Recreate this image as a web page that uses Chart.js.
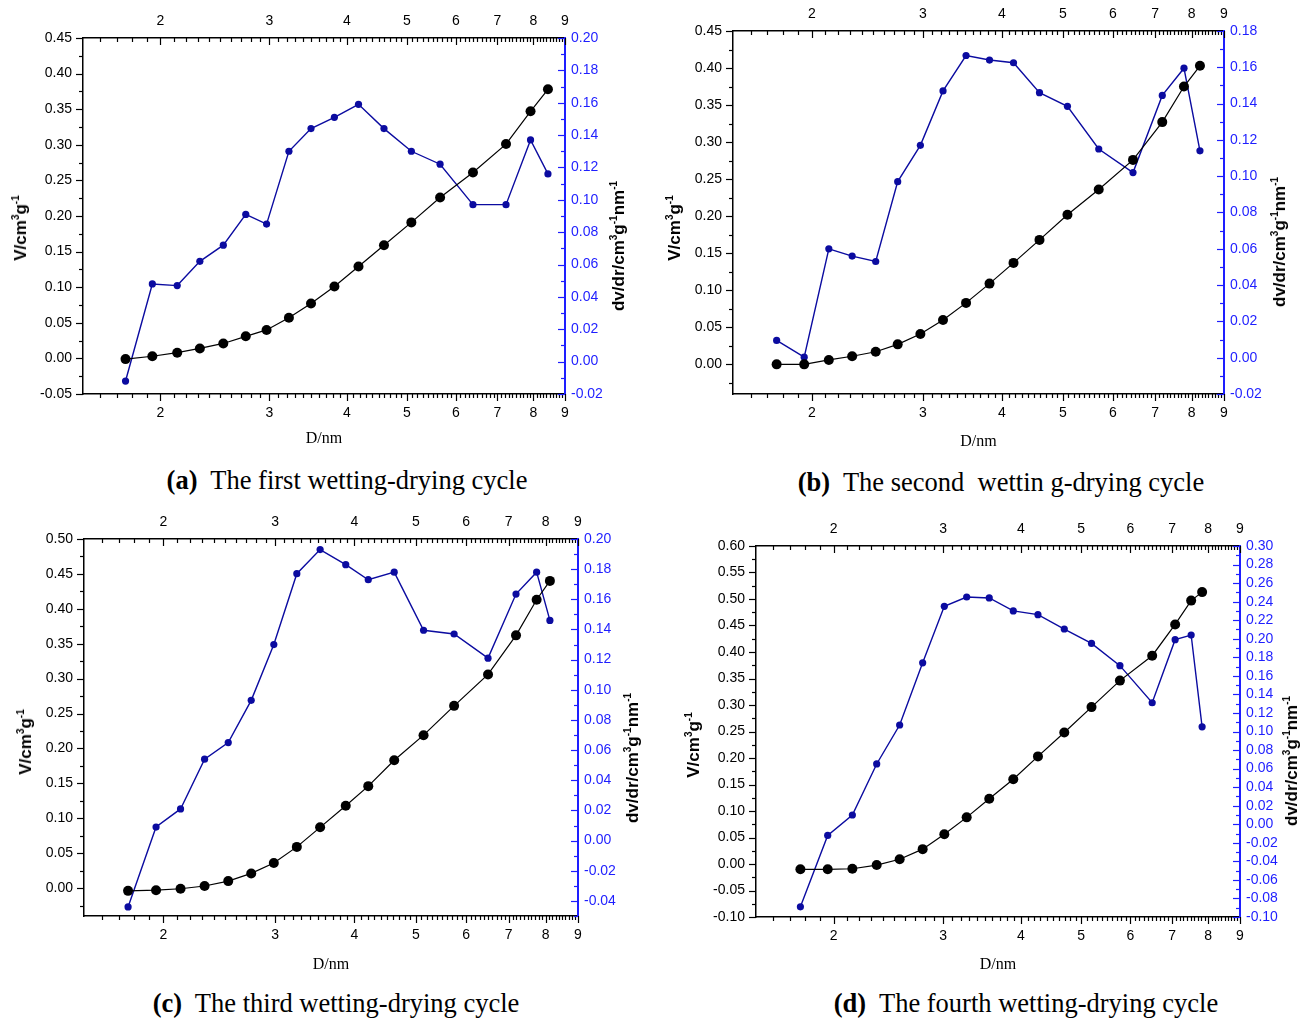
<!DOCTYPE html>
<html>
<head>
<meta charset="utf-8">
<script src="https://cdn.jsdelivr.net/npm/chart.js@4"></script>
<style>
  body { margin: 0; background: #fff; }
  #page { position: relative; width: 1309px; height: 1019px; overflow: hidden; background: #fff; }
  canvas { position: absolute; }
  .ytitle { position: absolute; font: bold 17px "Liberation Sans", Arial, sans-serif; white-space: nowrap;
            transform: translate(-50%, -50%) rotate(-90deg); color: #000; }
  .ytitle sup { font-size: 10px; vertical-align: 7px; line-height: 0; }
  .caption { position: absolute; font: 26.5px "Liberation Serif", "Times New Roman", serif; white-space: pre;
             transform: translate(-50%, -50%); color: #000; }
</style>
</head>
<body>
<div id="page">
  <canvas id="chartA" width="650" height="460" style="left:0px; top:0px"></canvas>
  <canvas id="chartB" width="659" height="460" style="left:650px; top:0px"></canvas>
  <canvas id="chartC" width="660" height="470" style="left:0px; top:510px"></canvas>
  <canvas id="chartD" width="649" height="470" style="left:660px; top:510px"></canvas>

  <div class="ytitle" style="left:21px; top:228px">V/cm<sup>3</sup>g<sup>-1</sup></div>
  <div class="ytitle" style="left:619px; top:246px">dv/dr/cm<sup>3</sup>g<sup>-1</sup>nm<sup>-1</sup></div>
  <div class="ytitle" style="left:675px; top:228px">V/cm<sup>3</sup>g<sup>-1</sup></div>
  <div class="ytitle" style="left:1280px; top:242px">dv/dr/cm<sup>3</sup>g<sup>-1</sup>nm<sup>-1</sup></div>
  <div class="ytitle" style="left:26px; top:742px">V/cm<sup>3</sup>g<sup>-1</sup></div>
  <div class="ytitle" style="left:633px; top:758px">dv/dr/cm<sup>3</sup>g<sup>-1</sup>nm<sup>-1</sup></div>
  <div class="ytitle" style="left:694px; top:745px">V/cm<sup>3</sup>g<sup>-1</sup></div>
  <div class="ytitle" style="left:1292px; top:761px">dv/dr/cm<sup>3</sup>g<sup>-1</sup>nm<sup>-1</sup></div>

  <div class="caption" style="left:347px; top:480px"><b>(a)</b>  The first wetting-drying cycle</div>
  <div class="caption" style="left:1001px; top:482px"><b>(b)</b>  The second  wettin g-drying cycle</div>
  <div class="caption" style="left:336px; top:1003px"><b>(c)</b>  The third wetting-drying cycle</div>
  <div class="caption" style="left:1026px; top:1003px"><b>(d)</b>  The fourth wetting-drying cycle</div>
</div>

<script>
// pore diameter D (nm), cumulative volume V and dv/dr
const D_A = [1.757, 1.941, 2.129, 2.316, 2.527, 2.747, 2.968, 3.225, 3.501, 3.819, 4.177, 4.592, 5.084, 5.657, 6.392, 7.228, 7.918, 8.447];
const V_A = [-0.001, 0.003, 0.008, 0.014, 0.021, 0.031, 0.040, 0.057, 0.077, 0.101, 0.129, 0.159, 0.191, 0.226, 0.261, 0.301, 0.347, 0.378];
const DVDR_A = [-0.012, 0.048, 0.047, 0.062, 0.072, 0.091, 0.085, 0.130, 0.144, 0.151, 0.159, 0.144, 0.130, 0.122, 0.097, 0.097, 0.137, 0.116];

const D_B = [1.759, 1.945, 2.128, 2.317, 2.525, 2.736, 2.972, 3.228, 3.511, 3.825, 4.175, 4.590, 5.083, 5.698, 6.457, 7.185, 7.777, 8.244];
const V_B = [0.000, 0.000, 0.006, 0.011, 0.017, 0.027, 0.041, 0.060, 0.083, 0.109, 0.137, 0.168, 0.202, 0.236, 0.276, 0.327, 0.375, 0.403];
const DVDR_B = [0.0095, 0.0003, 0.060, 0.056, 0.053, 0.097, 0.117, 0.147, 0.1665, 0.164, 0.1625, 0.146, 0.1385, 0.115, 0.102, 0.1445, 0.1595, 0.114];

const D_C = [1.760, 1.948, 2.129, 2.323, 2.531, 2.751, 2.986, 3.246, 3.532, 3.876, 4.206, 4.621, 5.140, 5.742, 6.494, 7.188, 7.746, 8.128];
const V_C = [-0.004, -0.003, -0.001, 0.003, 0.010, 0.021, 0.036, 0.059, 0.087, 0.118, 0.146, 0.183, 0.219, 0.261, 0.306, 0.362, 0.413, 0.440];
const DVDR_C = [-0.044, 0.009, 0.021, 0.054, 0.065, 0.093, 0.130, 0.177, 0.193, 0.183, 0.173, 0.178, 0.1395, 0.137, 0.121, 0.1635, 0.178, 0.146];

const D_D = [1.768, 1.956, 2.143, 2.345, 2.553, 2.780, 3.012, 3.272, 3.557, 3.888, 4.260, 4.696, 5.194, 5.770, 6.502, 7.079, 7.511, 7.822];
const V_D = [-0.010, -0.010, -0.009, -0.002, 0.009, 0.028, 0.056, 0.088, 0.123, 0.160, 0.203, 0.248, 0.296, 0.346, 0.393, 0.452, 0.497, 0.513];
const DVDR_D = [-0.089, -0.012, 0.010, 0.065, 0.107, 0.174, 0.235, 0.245, 0.244, 0.230, 0.226, 0.2105, 0.195, 0.171, 0.131, 0.199, 0.204, 0.105];

// tick labels
const X_TICKS = [2, 3, 4, 5, 6, 7, 8, 9];
const LEFT_TICKS_A = [-0.05, 0, 0.05, 0.10, 0.15, 0.20, 0.25, 0.30, 0.35, 0.40, 0.45];
const RIGHT_TICKS_A = [-0.02, 0, 0.02, 0.04, 0.06, 0.08, 0.10, 0.12, 0.14, 0.16, 0.18, 0.20];
const LEFT_TICKS_B = [0, 0.05, 0.10, 0.15, 0.20, 0.25, 0.30, 0.35, 0.40, 0.45];
const RIGHT_TICKS_B = [-0.02, 0, 0.02, 0.04, 0.06, 0.08, 0.10, 0.12, 0.14, 0.16, 0.18];
const LEFT_TICKS_C = [0, 0.05, 0.10, 0.15, 0.20, 0.25, 0.30, 0.35, 0.40, 0.45, 0.50];
const RIGHT_TICKS_C = [-0.04, -0.02, 0, 0.02, 0.04, 0.06, 0.08, 0.10, 0.12, 0.14, 0.16, 0.18, 0.20];
const LEFT_TICKS_D = [-0.10, -0.05, 0, 0.05, 0.10, 0.15, 0.20, 0.25, 0.30, 0.35, 0.40, 0.45, 0.50, 0.55, 0.60];
const RIGHT_TICKS_D = [-0.10, -0.08, -0.06, -0.04, -0.02, 0, 0.02, 0.04, 0.06, 0.08, 0.10, 0.12, 0.14, 0.16, 0.18, 0.20, 0.22, 0.24, 0.26, 0.28, 0.30];

const BLACK = "#000000";
const NAVY = "#0b0ba0";
const AXIS_BLUE = "#1e1eff";
const TICK_FONT = { family: "'Liberation Sans', Arial, sans-serif", size: 14 };

// minor x ticks every 0.1 between the labelled ones
const xMinor = [];
for (let i = 16; i < 90; i++) {
    if (i % 10 !== 0) xMinor.push(i / 10);
}

function minorOf(major, min, max) {
    const step = major[1] - major[0];
    const out = [];
    for (let v = major[0] - step / 2; v <= max + 1e-9; v += step) {
        if (v >= min - 1e-9) out.push(v);
    }
    return out;
}

// short tick marks: left/bottom point out, top/right point in (like the source plots)
const tickMarks = {
    id: "tickMarks",
    afterDraw(chart) {
        const { ctx, chartArea: a } = chart;
        const { x, y, y2 } = chart.scales;
        const o = chart.options.plugins.tickMarks;
        const seg = (x1, y1, x2, y2b) => { ctx.beginPath(); ctx.moveTo(x1, y1); ctx.lineTo(x2, y2b); ctx.stroke(); };
        ctx.save();
        ctx.lineWidth = 1.2;
        ctx.strokeStyle = BLACK;
        X_TICKS.forEach(v => {
            const px = Math.round(x.getPixelForValue(v)) + 0.5;
            seg(px, a.bottom, px, a.bottom + 7);
            seg(px, a.top, px, a.top + 7);
        });
        xMinor.forEach(v => {
            const px = Math.round(x.getPixelForValue(v)) + 0.5;
            seg(px, a.bottom, px, a.bottom + 4);
            seg(px, a.top, px, a.top + 4);
        });
        o.left.forEach(v => {
            const py = Math.round(y.getPixelForValue(v)) + 0.5;
            seg(a.left - 7, py, a.left, py);
        });
        minorOf(o.left, y.min, y.max).forEach(v => {
            const py = Math.round(y.getPixelForValue(v)) + 0.5;
            seg(a.left - 4, py, a.left, py);
        });
        ctx.strokeStyle = AXIS_BLUE;
        o.right.forEach(v => {
            const py = Math.round(y2.getPixelForValue(v)) + 0.5;
            seg(a.right - 7, py, a.right, py);
        });
        minorOf(o.right, y2.min, y2.max).forEach(v => {
            const py = Math.round(y2.getPixelForValue(v)) + 0.5;
            seg(a.right - 4, py, a.right, py);
        });
        ctx.restore();
    }
};

function fixSize(prop, size) {
    return scale => {
        scale[prop] = size;
        scale.paddingLeft = scale.paddingRight = scale.paddingTop = scale.paddingBottom = 0;
    };
}

function setTicks(list) {
    return scale => { scale.ticks = list.map(v => ({ value: v })); };
}

function makeChart(id, p) {
    const ctx = document.getElementById(id).getContext("2d");
    const W = ctx.canvas.width, H = ctx.canvas.height;
    const xAxis = (pos, size, title) => ({
        type: "logarithmic",
        position: pos,
        min: 1.5,
        max: 9,
        afterBuildTicks: setTicks(X_TICKS),
        afterFit: fixSize("height", size),
        grid: { display: true, drawOnChartArea: false, color: "rgba(0,0,0,0)", drawTicks: pos === "bottom", tickLength: 7 },
        border: { display: true, color: BLACK, width: 1.5 },
        ticks: { color: BLACK, font: TICK_FONT, padding: pos === "bottom" ? 4 : 8, maxRotation: 0, autoSkip: false,
                 callback: v => String(v) },
        title: title
    });
    return new Chart(ctx, {
        type: "scatter",
        data: {
            datasets: [
                {
                    label: "V",
                    data: p.D.map((d, i) => ({ x: d, y: p.V[i] })),
                    showLine: true,
                    borderColor: BLACK,
                    borderWidth: 1.2,
                    pointRadius: 5,
                    pointBackgroundColor: BLACK,
                    pointBorderColor: BLACK,
                    pointBorderWidth: 0,
                    xAxisID: "x",
                    yAxisID: "y"
                },
                {
                    label: "dv/dr",
                    data: p.D.map((d, i) => ({ x: d, y: p.dvdr[i] })),
                    showLine: true,
                    borderColor: NAVY,
                    borderWidth: 1.4,
                    pointRadius: 3.6,
                    pointBackgroundColor: NAVY,
                    pointBorderColor: NAVY,
                    pointBorderWidth: 0,
                    xAxisID: "x",
                    yAxisID: "y2"
                }
            ]
        },
        options: {
            responsive: false,
            animation: false,
            events: [],
            layout: { padding: 0 },
            plugins: {
                legend: { display: false },
                tooltip: { enabled: false },
                tickMarks: { left: p.leftTicks, right: p.rightTicks }
            },
            scales: {
                x: xAxis("bottom", H - p.area.bottom, {
                    display: true, text: "D/nm", color: BLACK,
                    font: { family: "'Liberation Serif', 'Times New Roman', serif", size: 16 },
                    padding: { top: 0, bottom: p.titlePad }
                }),
                x2: xAxis("top", p.area.top, { display: false }),
                y: {
                    type: "linear",
                    position: "left",
                    min: p.leftRange[0],
                    max: p.leftRange[1],
                    afterBuildTicks: setTicks(p.leftTicks),
                    afterFit: fixSize("width", p.area.left),
                    grid: { display: true, drawOnChartArea: false, color: "rgba(0,0,0,0)", tickLength: 7 },
                    border: { display: true, color: BLACK, width: 1.5 },
                    ticks: { color: BLACK, font: TICK_FONT, padding: 4, autoSkip: false, callback: v => v.toFixed(2) }
                },
                y2: {
                    type: "linear",
                    position: "right",
                    min: p.rightRange[0],
                    max: p.rightRange[1],
                    afterBuildTicks: setTicks(p.rightTicks),
                    afterFit: fixSize("width", W - p.area.right),
                    grid: { display: true, drawOnChartArea: false, color: "rgba(0,0,0,0)", drawTicks: false },
                    border: { display: true, color: AXIS_BLUE, width: 2 },
                    ticks: { color: AXIS_BLUE, font: TICK_FONT, padding: 6, autoSkip: false, callback: v => v.toFixed(2) }
                }
            }
        },
        plugins: [tickMarks]
    });
}

makeChart("chartA", {
    D: D_A, V: V_A, dvdr: DVDR_A,
    leftRange: [-0.05, 0.45], rightRange: [-0.02, 0.20],
    leftTicks: LEFT_TICKS_A, rightTicks: RIGHT_TICKS_A,
    area: { left: 83, right: 565, top: 38, bottom: 394 }, titlePad: 12
});
makeChart("chartB", {
    D: D_B, V: V_B, dvdr: DVDR_B,
    leftRange: [-0.04, 0.45], rightRange: [-0.02, 0.18],
    leftTicks: LEFT_TICKS_B, rightTicks: RIGHT_TICKS_B,
    area: { left: 83, right: 574, top: 31, bottom: 394 }, titlePad: 9
});
makeChart("chartC", {
    D: D_C, V: V_C, dvdr: DVDR_C,
    leftRange: [-0.04, 0.50], rightRange: [-0.05, 0.20],
    leftTicks: LEFT_TICKS_C, rightTicks: RIGHT_TICKS_C,
    area: { left: 84, right: 578, top: 29, bottom: 406 }, titlePad: 6
});
makeChart("chartD", {
    D: D_D, V: V_D, dvdr: DVDR_D,
    leftRange: [-0.10, 0.60], rightRange: [-0.10, 0.30],
    leftTicks: LEFT_TICKS_D, rightTicks: RIGHT_TICKS_D,
    area: { left: 96, right: 580, top: 36, bottom: 407 }, titlePad: 6
});
</script>
</body>
</html>
